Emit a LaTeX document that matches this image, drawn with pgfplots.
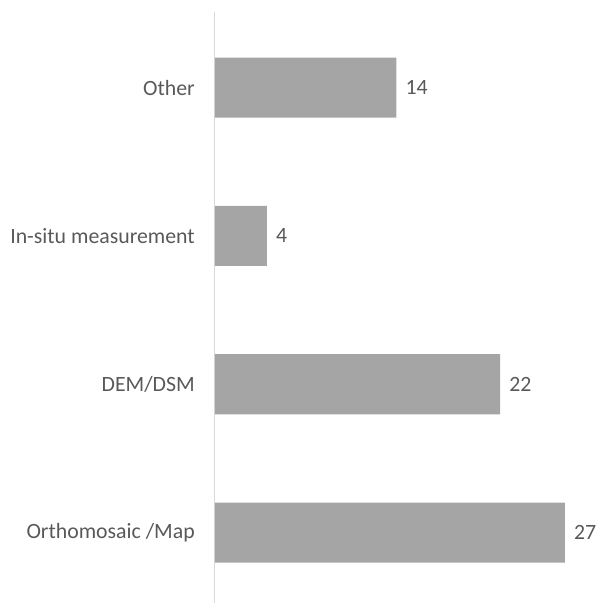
\documentclass[border=0pt]{standalone}
\usepackage{fontspec}
\setmainfont{Carlito}
\usepackage{pgfplots}
\pgfplotsset{compat=1.18}
\definecolor{bargray}{HTML}{A5A5A5}
\definecolor{txtgray}{HTML}{595959}
\definecolor{axgray}{HTML}{D9D9D9}
\begin{document}
\begin{tikzpicture}
\begin{axis}[
  name=ax,
  scale only axis,
  width=383pt, height=591pt,
  xmin=0, xmax=29.55,
  ymin=-0.475, ymax=3.51,
  xbar,
  bar width=0.405,
  axis x line=none,
  axis y line*=left,
  y axis line style={draw=axgray, line width=1pt, -},
  major tick length=0pt,
  ytick={0,1,2,3},
  yticklabels={Orthomosaic /Map, DEM/DSM, In-situ measurement, Other},
  yticklabel style={font=\fontsize{21.8}{24}\selectfont, text=txtgray, anchor=east, inner sep=0pt, xshift=-20pt},
  /pgf/number format/assume math mode=true,
  nodes near coords,
  nodes near coords style={font=\fontsize{21.8}{24}\selectfont, text=txtgray, anchor=west, inner sep=0pt, xshift=9pt},
  clip=false,
]
\addplot[fill=bargray, draw=none] coordinates {(27,0) (22,1) (4,2) (14,3)};
\end{axis}
\pgfresetboundingbox
\path ([xshift=-215pt]ax.south west) rectangle ([xshift=0pt,yshift=12pt]ax.north east);
\end{tikzpicture}
\end{document}
